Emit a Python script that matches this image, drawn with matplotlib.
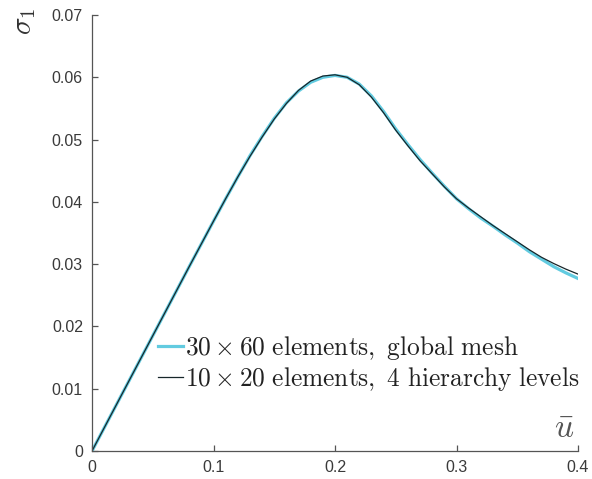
import numpy as np
import matplotlib
matplotlib.use('Agg')
import matplotlib.pyplot as plt

plt.rcParams['mathtext.fontset'] = 'cm'
plt.rcParams['font.family'] = ['Liberation Sans', 'DejaVu Sans']

# displacement values
u = [0, 0.02, 0.04, 0.06, 0.08, 0.1, 0.11, 0.12, 0.13, 0.14, 0.15, 0.16, 0.17,
     0.18, 0.19, 0.2, 0.21, 0.22, 0.23, 0.24, 0.25, 0.26, 0.27, 0.28, 0.29,
     0.3, 0.31, 0.32, 0.33, 0.34, 0.35, 0.36, 0.37, 0.38, 0.39, 0.4]

# 30x60 global mesh
sig_global = [0, 0.0074, 0.0148, 0.0222, 0.0296, 0.0369, 0.0405, 0.0440, 0.0474,
              0.0505, 0.0534, 0.0559, 0.0578, 0.0592, 0.0600, 0.0603, 0.0600,
              0.0589, 0.0570, 0.0545, 0.0517, 0.0492, 0.0468, 0.0446, 0.0425,
              0.0405, 0.0389, 0.0374, 0.0361, 0.0347, 0.0334, 0.0320, 0.0308,
              0.0296, 0.0286, 0.0277]

# 10x20 with 4 hierarchy levels
sig_hier = [0, 0.0074, 0.0148, 0.0222, 0.0296, 0.0369, 0.0405, 0.0440, 0.0473,
            0.0504, 0.0533, 0.0558, 0.0579, 0.0594, 0.0602, 0.0604, 0.0600,
            0.0588, 0.0568, 0.0543, 0.0515, 0.0490, 0.0466, 0.0445, 0.0424,
            0.0405, 0.0390, 0.0376, 0.0362, 0.0349, 0.0336, 0.0323, 0.0311,
            0.0301, 0.0292, 0.0284]

xticks = [0, 0.1, 0.2, 0.3, 0.4]
xticklabels = ['0', '0.1', '0.2', '0.3', '0.4']
yticks = [0, 0.01, 0.02, 0.03, 0.04, 0.05, 0.06, 0.07]
yticklabels = ['0', '0.01', '0.02', '0.03', '0.04', '0.05', '0.06', '0.07']

fig = plt.figure(figsize=(5.92, 4.79), dpi=100)
ax = fig.add_axes([92/592, 28/479, 486/592, 436/479])

ax.plot(u, sig_global, color='#62cbe0', lw=2.3, solid_joinstyle='round',
        label=r'$\mathrm{30 \times 60\ elements,\ global\ mesh}$')
ax.plot(u, sig_hier, color='#17262a', lw=0.9, solid_joinstyle='round',
        label=r'$\mathrm{10 \times 20\ elements,\ 4\ hierarchy\ levels}$')

ax.set_xlim(0, 0.4)
ax.set_ylim(0, 0.07)
ax.set_xticks(xticks)
ax.set_xticklabels(xticklabels)
ax.set_yticks(yticks)
ax.set_yticklabels(yticklabels)

for s in ['top', 'right']:
    ax.spines[s].set_visible(False)
for s in ['left', 'bottom']:
    ax.spines[s].set_color('#555555')
    ax.spines[s].set_linewidth(0.9)
ax.tick_params(direction='in', length=4, width=0.9, colors='#555555',
               labelcolor='#3a3a3a', labelsize=11.5, pad=6.5)

ax.text(-0.14, 1.016, r'$\sigma_1$', transform=ax.transAxes, rotation=90,
        fontsize=21, ha='center', va='top', color='#333333')
ax.text(0.971, 0.014, r'$\bar{u}$', transform=ax.transAxes,
        fontsize=24, ha='center', va='bottom', color='#555555')

leg = ax.legend(loc='upper left', bbox_to_anchor=(158/592, 1 - 334/479),
                bbox_transform=fig.transFigure, frameon=False, fontsize=18.3,
                handlelength=1.0, handletextpad=0.08, borderpad=0,
                borderaxespad=0, labelspacing=0.13)
for t in leg.get_texts():
    t.set_color('#222222')

fig.savefig('out.png', dpi=100)
